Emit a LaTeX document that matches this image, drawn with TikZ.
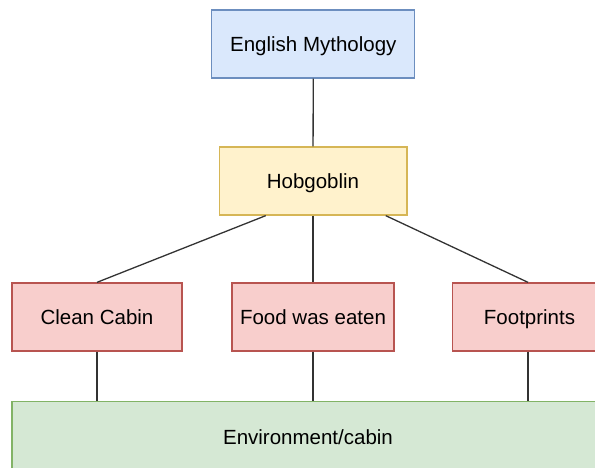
\documentclass[tikz,border=0pt]{standalone}
\usepackage{fontspec}
\setmainfont{Liberation Sans}
\usetikzlibrary{calc}
\definecolor{blueFill}{HTML}{DAE8FC}
\definecolor{blueLine}{HTML}{6C8EBF}
\definecolor{yellowFill}{HTML}{FFF2CC}
\definecolor{yellowLine}{HTML}{D6B656}
\definecolor{redFill}{HTML}{F8CECC}
\definecolor{redLine}{HTML}{B85450}
\definecolor{greenFill}{HTML}{D5E8D4}
\definecolor{greenLine}{HTML}{82B366}
\begin{document}
\begin{tikzpicture}[x=1pt, y=-1pt,
    box/.style={draw, line width=1.3pt, inner sep=0pt, minimum height=68pt,
      text height=15pt, text depth=0pt,
      font=\fontsize{20.5}{24}\selectfont},
    link/.style={line width=1.3pt, black!80}]
  % Frame
  \useasboundingbox (0,0) rectangle (595,468);
  \clip (0,0) rectangle (595,468);

  % Top levels
  \node[box, fill=blueFill, draw=blueLine, minimum width=203pt] (myth) at (313.3, 44) {English Mythology};
  \node[box, fill=yellowFill, draw=yellowLine, minimum width=187.7pt] (hob) at (313, 181) {Hobgoblin};

  % Clues
  \node[box, fill=redFill, draw=redLine, minimum width=170pt] (clean) at (97, 317) {Clean Cabin};
  \node[box, fill=redFill, draw=redLine, minimum width=162pt] (food) at (313, 317) {Food was eaten};
  \node[box, fill=redFill, draw=redLine, minimum width=154pt] (foot) at (529.5, 317) {Footprints};

  % Environment (runs off the page)
  \node[box, fill=greenFill, draw=greenLine, minimum width=592pt, minimum height=71pt] (env) at (308, 437) {Environment/cabin};

  % Links
  \draw[link] (myth) -- (hob);
  \draw[link] ($(hob.south west)!0.25!(hob.south east)$) -- (clean.north);
  \draw[link] (hob) -- (food);
  \draw[link] ($(hob.south west)!0.885!(hob.south east)$) -- ($(foot.north)+(-1.5,0)$);
  \draw[link] (clean.south) -- (clean.south |- env.north);
  \draw[link] (food.south) -- (food.south |- env.north);
  \draw[link] ($(foot.south)+(-1.5,0)$) -- ($(foot.south |- env.north)+(-1.5,0)$);
\end{tikzpicture}
\end{document}
